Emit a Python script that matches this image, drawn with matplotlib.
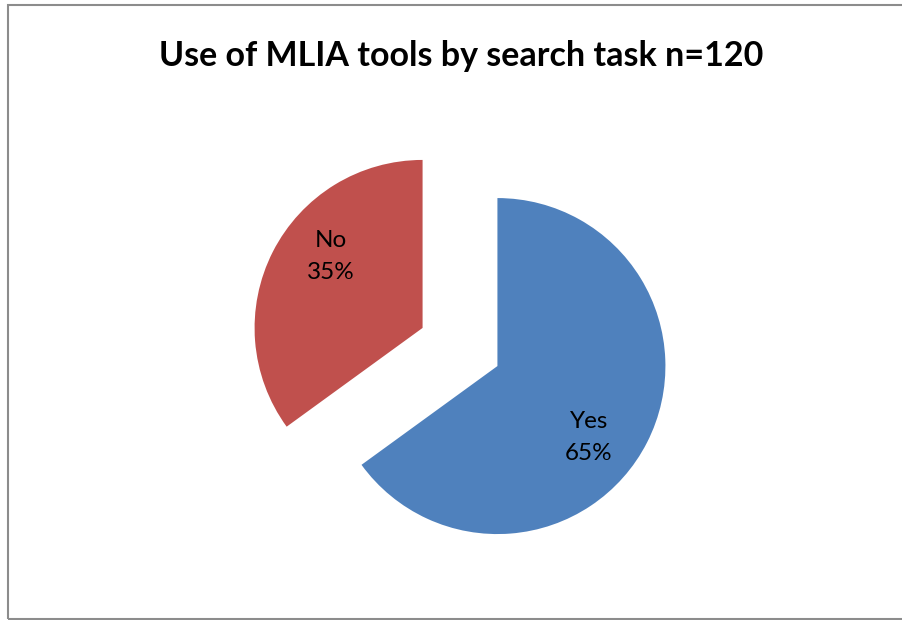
import matplotlib
matplotlib.use('Agg')
import matplotlib.pyplot as plt
import numpy as np
from matplotlib.patches import Rectangle

labels = ['Yes', 'No']
values = [65, 35]
colors = ['#4F81BD', '#C0504D']
title = 'Use of MLIA tools by search task n=120'

plt.rcParams['font.family'] = ['Lato', 'DejaVu Sans']

fig = plt.figure(figsize=(9.03, 6.2), dpi=100)
ax = fig.add_axes([0, 0, 1, 1])

# pie centre about (460, 347) px, radius 168 px
r = 168.0
wedges, _ = ax.pie(values, colors=colors, startangle=90, counterclock=False,
                   explode=[0.25, 0.25], radius=1.0, center=(0, 0), frame=True)

# data labels, a bit clockwise of the wedge middle like excel puts them
total = float(sum(values))
for w, lab, v in zip(wedges, labels, values):
    mid = np.deg2rad((w.theta1 + w.theta2) / 2 - 11)
    cx, cy = w.center
    ax.text(cx + 0.69 * np.cos(mid), cy + 0.69 * np.sin(mid),
            '%s\n%.0f%%' % (lab, v / total * 100), ha='center', va='center',
            fontsize=17.5, linespacing=1.6, color='black')

ax.set_xlim(-460 / r, (903 - 460) / r)
ax.set_ylim(-(620 - 347) / r, 347 / r)
ax.set_aspect('auto')
ax.axis('off')

fig.text(461 / 903, 1 - 56 / 620, title, ha='center', va='center',
         fontsize=24.5, fontweight='bold')

# chart border
fig.patches.append(Rectangle((8 / 903, 1 / 620), 1.0, 1 - 6 / 620,
                             transform=fig.transFigure, fill=False,
                             edgecolor='#8c8c8c', linewidth=1.5))

fig.savefig('out.png', dpi=100)
